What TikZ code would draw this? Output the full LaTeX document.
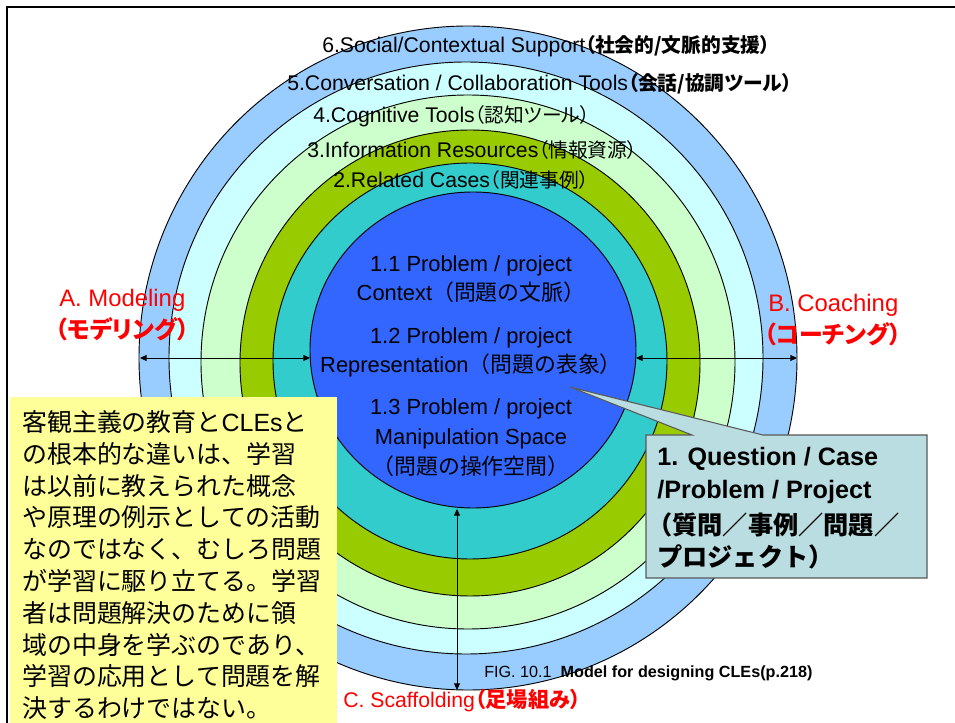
\documentclass[tikz,border=0pt]{standalone}
\usepackage{fontspec}
\setmainfont{Liberation Sans}
\newfontfamily\jp{Noto Sans CJK JP}
\newfontfamily\jpp{Noto Sans CJK JP}[RawFeature=+palt]
\newfontfamily\jpt{Noto Sans CJK JP}[RawFeature=+palt,Scale=0.93]
\usetikzlibrary{arrows.meta}
\definecolor{ringA}{HTML}{99CCFF}
\definecolor{ringB}{HTML}{CCFFFF}
\definecolor{ringC}{HTML}{CCFFCC}
\definecolor{ringD}{HTML}{99CC00}
\definecolor{ringE}{HTML}{33CCCC}
\definecolor{ringF}{HTML}{3366FF}
\definecolor{calfill}{RGB}{185,221,224}
\definecolor{yelfill}{HTML}{FFFF99}
\begin{document}
\begin{tikzpicture}[x=0.754pt,y=-0.754pt,
 ringline/.style={draw=black,line width=0.7pt},
 ttl/.style={anchor=base west,inner sep=0pt,font=\fontsize{16}{19}\selectfont},
 inr/.style={anchor=base,inner sep=0pt,font=\fontsize{16.5}{20}\selectfont},
 redl/.style={anchor=base west,inner sep=0pt,text=red,font=\fontsize{18}{22}\selectfont},
 cal/.style={anchor=base west,inner sep=0pt,font=\bfseries\fontsize{19}{23}\selectfont},
 yel/.style={anchor=base west,inner sep=0pt,font=\jp\fontsize{18.8}{24}\selectfont},
 dbl/.style={{Triangle[length=5pt,width=4.5pt]}-{Triangle[length=5pt,width=4.5pt]},line width=0.6pt}]
\useasboundingbox (0,0) rectangle (955,723);
% rings
\path[ringline,fill=ringA] (468,358) ellipse [x radius=329*0.754pt, y radius=332*0.754pt];
\path[ringline,fill=ringB] (466,358) ellipse [x radius=297*0.754pt, y radius=296*0.754pt];
\path[ringline,fill=ringC] (468,362) ellipse [x radius=267*0.754pt, y radius=267*0.754pt];
\path[ringline,fill=ringD] (470,363) ellipse [x radius=230*0.754pt, y radius=233*0.754pt];
\path[ringline,fill=ringE] (470,361) ellipse [x radius=197*0.754pt, y radius=198*0.754pt];
\path[ringline,fill=ringF] (473,350) ellipse [x radius=163*0.754pt, y radius=158*0.754pt];
% arrow end points
\coordinate (aL1) at (140,358);
\coordinate (aL2) at (310,358);
\coordinate (aR1) at (636,358);
\coordinate (aR2) at (797,358);
\coordinate (aB1) at (457,509);
\coordinate (aB2) at (457,690);
\draw[dbl] (aL1) -- (aL2);
\draw[dbl] (aR1) -- (aR2);
\draw[dbl] (aB1) -- (aB2);
% ring titles
\node[ttl] (t6) at (322,52.6) {6.Social/Contextual Support{\jpt\bfseries（社会的/文脈的支援）}};
\node[ttl] (t5) at (287,90.6) {5.Conversation / Collaboration Tools{\jpt\bfseries（会話/協調ツール）}};
\node[ttl] (t4) at (313,122.6) {4.Cognitive Tools{\jpt（認知ツール）}};
\node[ttl] (t3) at (307,157.6) {3.Information Resources{\jpt（情報資源）}};
\node[ttl] (t2) at (333,187.6) {2.Related Cases{\jpt（関連事例）}};
% inner texts
\node[inr] (i1) at (471,272) {1.1 Problem / project};
\node[inr] (i2) at (471,301) {Context{\jp（問題の文脈）}};
\node[inr] (i3) at (471,344) {1.2 Problem / project};
\node[inr] (i4) at (471,373) {Representation{\jp（問題の表象）}};
\node[inr] (i5) at (471,415) {1.3 Problem / project};
\node[inr] (i6) at (471,445) {Manipulation Space};
\node[inr] (i7) at (471,475) {\jp（問題の操作空間）};
% caption
\node[anchor=base west,inner sep=0pt,font=\fontsize{12.2}{15}\selectfont] (cap) at (484,677) {FIG. 10.1\ \ {\bfseries Model for designing CLEs(p.218)}};
% callout
\path[draw=black!65,line width=0.8pt,fill=calfill] (646,435) -- (692,435) -- (570,387) -- (763,435) -- (927,435) -- (927,578) -- (646,578) -- cycle;
\node[cal] (c1) at (657,466) {1. Question / Case};
\node[cal] (c2) at (657,499) {/Problem / Project};
\node[cal] (c3) at (647,534) {\jp\bfseries（質問／事例／問題／};
\node[cal] (c4) at (657,566) {\jp\bfseries プロジェクト）};
% yellow box
\fill[yelfill] (10,397) rectangle (337,725);
\node[yel] (y1) at (22,431.5) {客観主義の教育と{\normalfont CLEs}と};
\node[yel] (y2) at (22,463.3) {の根本的な違いは、学習};
\node[yel] (y3) at (22,495.1) {は以前に教えられた概念};
\node[yel] (y4) at (22,526.9) {や原理の例示としての活動};
\node[yel] (y5) at (22,558.7) {なのではなく、むしろ問題};
\node[yel] (y6) at (22,590.5) {が学習に駆り立てる。学習};
\node[yel] (y7) at (22,622.3) {者は問題解決のために領};
\node[yel] (y8) at (22,654.1) {域の中身を学ぶのであり、};
\node[yel] (y9) at (22,685.9) {学習の応用として問題を解};
\node[yel] (y10) at (22,717.7) {決するわけではない。};
% frame
\draw[line width=1.6pt] (7,725) -- (7,7) -- (957,7);
% red labels
\node[redl] (rA1) at (59,306.6) {A. Modeling};
\node[redl] (rA2) at (55,338.6) {\jpp\bfseries（モデリング）};
\node[redl] (rB1) at (768,311.6) {B. Coaching};
\node[redl] (rB2) at (764,343.6) {\jpp\bfseries（コーチング）};
\node[redl,font=\fontsize{16}{19}\selectfont] (rC) at (343,707.6) {C. Scaffolding{\jpp\bfseries（足場組み）}};
\end{tikzpicture}
\end{document}
